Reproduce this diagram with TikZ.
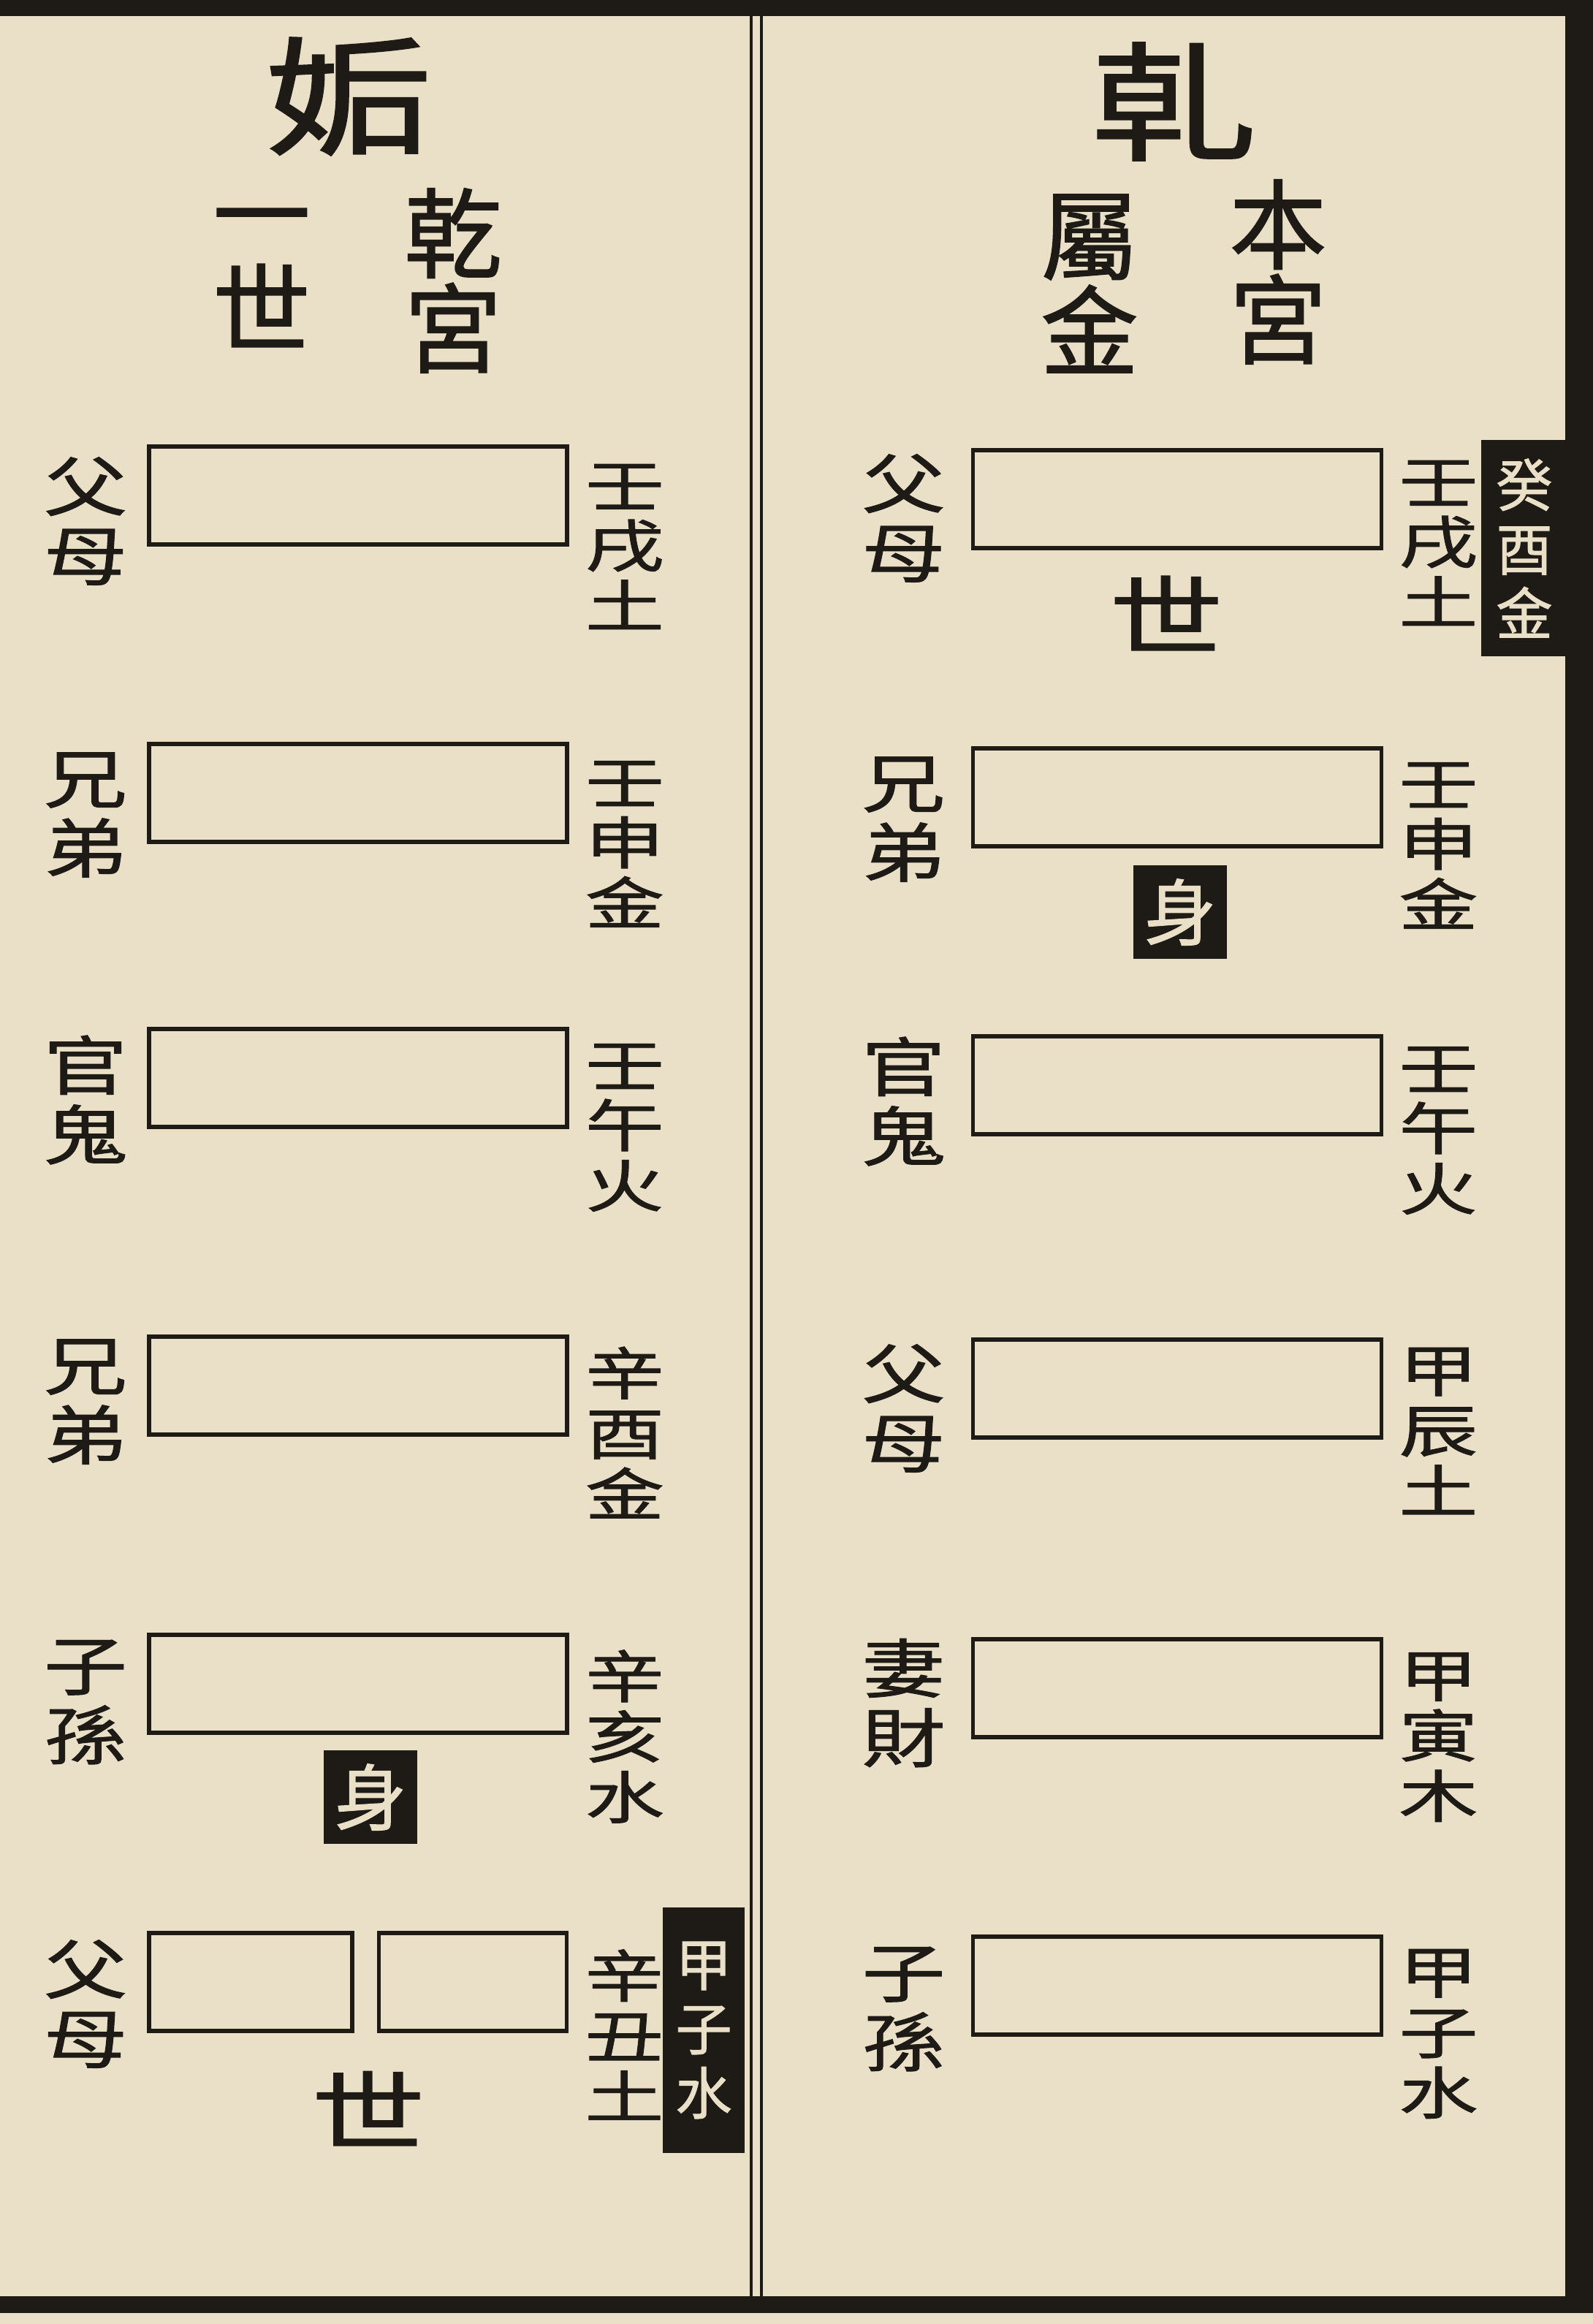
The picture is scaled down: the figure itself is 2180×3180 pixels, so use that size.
\documentclass[tikz,border=0pt]{standalone}
\usepackage{fontspec}
\usepackage{tikz}
\usetikzlibrary{positioning}
\newfontfamily\cjk{Noto Sans CJK TC}[FakeBold=1.2]
\newfontfamily\cjkwide{Noto Sans CJK TC}[FakeStretch=1.3, FakeBold=1.2]
\newfontfamily\cjkflat{Noto Sans CJK TC}[FakeStretch=1.4, FakeBold=1.2]
\definecolor{paper}{RGB}{234,224,200}
\definecolor{ink}{RGB}{30,26,22}

\begin{document}
\begin{tikzpicture}[
            x = 0.01cm, % one unit is one pixel of the page
            y = -0.01cm, % y runs downwards
            line width = 1.6pt, % stroke of the line boxes
            every node/.style = {inner sep = 0pt, text = ink}
        ]

        \tikzstyle{yao}=[draw = ink, minimum height = 1.34cm]
        \tikzstyle{rel}=[align = center, font = {\cjkwide\fontsize{25}{27}\selectfont}]
        \tikzstyle{naj}=[align = center, font = {\cjkflat\fontsize{22}{23.5}\selectfont}]
        \tikzstyle{head}=[font = {\cjkwide\fontsize{50}{50}\selectfont}]
        \tikzstyle{col}=[align = center, font = {\cjk\fontsize{38}{37}\selectfont}]
        \tikzstyle{shi}=[font = {\cjkwide\fontsize{34}{34}\selectfont}]
        \tikzstyle{shen}=[fill = ink, text = paper, minimum size = 1.28cm,
            font = {\cjk\fontsize{28}{28}\selectfont}]
        \tikzstyle{tag}=[fill = ink, text = paper, align = center,
            font = {\cjk\fontsize{22}{25}\selectfont}]

        % page and frame
        \fill[paper] (0,0) rectangle (2180,3180);
        \useasboundingbox (0,0) rectangle (2180,3180);
        \fill[ink] (0,0) rectangle (2180,22);
        \fill[ink] (2142,0) rectangle (2180,3165);
        \fill[ink] (0,3142) rectangle (2180,3165);
        \draw[ink, line width = 1.2pt] (1028,22) -- (1028,3142);
        \draw[ink, line width = 1.2pt] (1042,22) -- (1042,3142);

        % right page: qian
        \node[head] (tr) at (1607,139) {乹};
        \node[col] (br) at (1749,372) {本\\宮};
        \node[col] (sr) at (1491,388) {屬\\金};

        \node[yao, minimum width = 5.59cm] (r1) at (1611,683) {};
        \node[yao, minimum width = 5.59cm] (r2) at (1611,1091) {};
        \node[yao, minimum width = 5.59cm] (r3) at (1611,1485) {};
        \node[yao, minimum width = 5.59cm] (r4) at (1611,1900) {};
        \node[yao, minimum width = 5.59cm] (r5) at (1611,2310) {};
        \node[yao, minimum width = 5.59cm] (r6) at (1611,2717) {};

        \node[rel] (qr1) at ([shift={(-92,26)}]r1.west) {父\\母};
        \node[rel] (qr2) at ([shift={(-92,30)}]r2.west) {兄\\弟};
        \node[rel] (qr3) at ([shift={(-92,22)}]r3.west) {官\\鬼};
        \node[rel] (qr4) at ([shift={(-92,27)}]r4.west) {父\\母};
        \node[rel] (qr5) at ([shift={(-92,20)}]r5.west) {妻\\財};
        \node[rel] (qr6) at ([shift={(-92,32)}]r6.west) {子\\孫};

        \node[naj] (nr1) at ([shift={(75,60)}]r1.east) {壬\\戌\\土};
        \node[naj] (nr2) at ([shift={(75,66)}]r2.east) {壬\\申\\金};
        \node[naj] (nr3) at ([shift={(75,62)}]r3.east) {壬\\午\\火};
        \node[naj] (nr4) at ([shift={(75,58)}]r4.east) {甲\\辰\\土};
        \node[naj] (nr5) at ([shift={(75,67)}]r5.east) {甲\\寅\\木};
        \node[naj] (nr6) at ([shift={(75,66)}]r6.east) {甲\\子\\水};

        \node[shi] (shr) at ([shift={(-15,156)}]r1.center) {世};
        \node[shen] (snr) at ([shift={(4,157)}]r2.center) {身};
        \node[tag, minimum width = 1.18cm, minimum height = 2.95cm] (gr) at (2086,750) {癸\\酉\\金};

        % left page: gou
        \node[head] (tl) at (477,132) {姤};
        \node[col] (bl) at (620,384) {乾\\宮};
        \node[col] (sl) at (358,380) {一\\世};

        \node[yao, minimum width = 5.72cm] (l1) at (490,678) {};
        \node[yao, minimum width = 5.72cm] (l2) at (490,1085) {};
        \node[yao, minimum width = 5.72cm] (l3) at (490,1475) {};
        \node[yao, minimum width = 5.72cm] (l4) at (490,1896) {};
        \node[yao, minimum width = 5.72cm] (l5) at (490,2304) {};
        \node[yao, minimum width = 2.78cm] (l6a) at (343,2712) {};
        \node[yao, minimum width = 2.57cm] (l6b) at (647,2712) {};

        \node[rel] (ql1) at ([shift={(-84,35)}]l1.west) {父\\母};
        \node[rel] (ql2) at ([shift={(-84,30)}]l2.west) {兄\\弟};
        \node[rel] (ql3) at ([shift={(-84,30)}]l3.west) {官\\鬼};
        \node[rel] (ql4) at ([shift={(-84,22)}]l4.west) {兄\\弟};
        \node[rel] (ql5) at ([shift={(-84,25)}]l5.west) {子\\孫};
        \node[rel] (ql6) at ([shift={(-84,30)}]l6a.west) {父\\母};

        \node[naj] (nl1) at ([shift={(76,70)}]l1.east) {壬\\戌\\土};
        \node[naj] (nl2) at ([shift={(76,70)}]l2.east) {壬\\申\\金};
        \node[naj] (nl3) at ([shift={(76,68)}]l3.east) {壬\\午\\火};
        \node[naj] (nl4) at ([shift={(76,64)}]l4.east) {辛\\酉\\金};
        \node[naj] (nl5) at ([shift={(76,72)}]l5.east) {辛\\亥\\水};
        \node[naj] (nl6) at ([shift={(76,72)}]l6b.east) {辛\\丑\\土};

        \node[shen] (snl) at ([shift={(17,155)}]l5.center) {身};
        \node[shi] (shl) at ([shift={(14,173)}]l5.center |- l6a.center) {世};
        \node[tag, minimum width = 1.11cm, minimum height = 3.35cm] (gl) at (963,2778) {甲\\子\\水};

  \end{tikzpicture}
\end{document}
